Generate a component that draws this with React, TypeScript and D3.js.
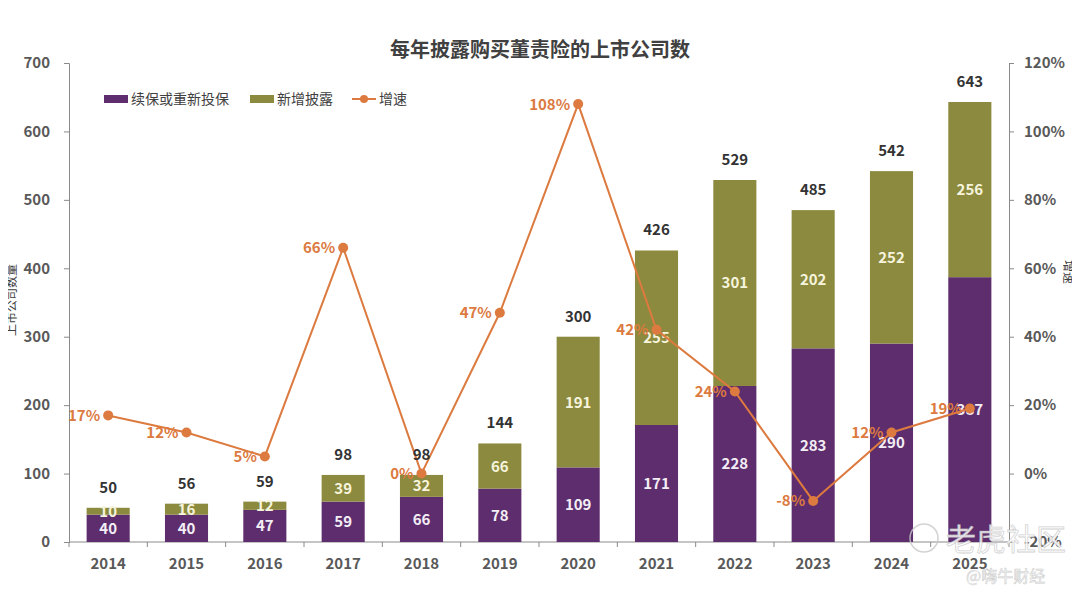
import { useEffect, useRef } from "react";
import * as d3 from "d3";

const years = ["2014", "2015", "2016", "2017", "2018", "2019", "2020", "2021", "2022", "2023", "2024", "2025"];
const renewed = [40, 40, 47, 59, 66, 78, 109, 171, 228, 283, 290, 387];
const newlyDisclosed = [10, 16, 12, 39, 32, 66, 191, 255, 301, 202, 252, 256];
const totals = [50, 56, 59, 98, 98, 144, 300, 426, 529, 485, 542, 643];
const growth = [17, 12, 5, 66, 0, 47, 108, 42, 24, -8, 12, 19];
const leftTicks = [0, 100, 200, 300, 400, 500, 600, 700];
const rightTicks = [-20, 0, 20, 40, 60, 80, 100, 120];

const PURPLE = "#5d2d6e";
const OLIVE = "#8c8a3e";
const ORANGE = "#dc7a3f";
const AXIS = "#8a8a8a";
const TICK_TEXT = "#595959";
const FONT = "'Noto Sans CJK SC', 'Noto Sans', sans-serif";

function App() {
	const ref = useRef<SVGSVGElement>(null);

	useEffect(() => {
		const svg = d3.select(ref.current);
		svg.selectAll("*").remove();

		const width = 1080;
		const height = 600;
		const left = 69;
		const right = 1009;
		const top = 63;
		const bottom = 542;

		svg.attr("width", width).attr("height", height).style("font-family", FONT);

		// frame
		svg.append("rect")
			.attr("x", 0.5)
			.attr("y", 0.5)
			.attr("width", width - 1)
			.attr("height", height - 3)
			.attr("rx", 8)
			.attr("fill", "white")
			.attr("stroke", "#cfcfcf");

		const x = d3.scaleBand<string>().domain(years).range([left, right]).paddingInner(0.45).paddingOuter(0.225);
		const y = d3.scaleLinear().domain([0, 700]).range([bottom, top]);
		const y2 = d3.scaleLinear().domain([-20, 120]).range([bottom, top]);

		// title
		svg.append("text")
			.attr("x", 540)
			.attr("y", 57)
			.attr("text-anchor", "middle")
			.attr("font-size", 20)
			.attr("font-weight", 700)
			.attr("fill", "#404040")
			.text("每年披露购买董责险的上市公司数");

		// left axis
		const leftAxis = svg.append("g")
			.attr("transform", `translate(${left},0)`)
			.call(d3.axisLeft(y).tickValues(leftTicks).tickSize(5).tickPadding(14));
		leftAxis.selectAll("text").attr("font-size", 15).attr("font-weight", 700).attr("fill", TICK_TEXT).attr("font-family", FONT);

		// right axis
		const rightAxis = svg.append("g")
			.attr("transform", `translate(${right},0)`)
			.call(d3.axisRight(y2).tickValues(rightTicks).tickSize(5).tickPadding(10).tickFormat((d) => `${d}%`));
		rightAxis.selectAll("text").attr("font-size", 15).attr("font-weight", 700).attr("fill", TICK_TEXT).attr("font-family", FONT);

		// bottom axis with ticks between categories
		const step = x.step();
		const bottomAxis = svg.append("g").attr("transform", `translate(0,${bottom})`);
		bottomAxis.append("line").attr("x1", left).attr("x2", right).attr("stroke", AXIS);
		bottomAxis.selectAll("line.tick")
			.data(d3.range(years.length + 1))
			.join("line")
			.attr("class", "tick")
			.attr("x1", (i) => left + i * step)
			.attr("x2", (i) => left + i * step)
			.attr("y1", 0)
			.attr("y2", 5)
			.attr("stroke", AXIS);
		bottomAxis.selectAll("text")
			.data(years)
			.join("text")
			.attr("x", (d) => x(d)! + x.bandwidth() / 2)
			.attr("y", 27)
			.attr("text-anchor", "middle")
			.attr("font-size", 15)
			.attr("font-weight", 700)
			.attr("fill", TICK_TEXT)
			.text((d) => d);

		svg.selectAll(".domain").attr("stroke", AXIS);
		svg.selectAll(".tick line").attr("stroke", AXIS);

		// axis titles
		svg.append("text")
			.attr("transform", `translate(16,300) rotate(-90)`)
			.attr("text-anchor", "middle")
			.attr("font-size", 12)
			.attr("fill", "#404040")
			.text("上市公司数量");
		svg.append("text")
			.attr("transform", `translate(1064,272) rotate(90)`)
			.attr("text-anchor", "middle")
			.attr("font-size", 12)
			.attr("fill", "#404040")
			.text("增速");

		// stacked bars
		const rows = years.map((yr, i) => ({ year: yr, renewed: renewed[i], newlyDisclosed: newlyDisclosed[i] }));
		const stack = d3.stack<{ year: string; renewed: number; newlyDisclosed: number }>().keys(["renewed", "newlyDisclosed"]);
		const series = stack(rows);
		const colors = [PURPLE, OLIVE];

		series.forEach((s, si) => {
			svg.append("g")
				.selectAll("rect")
				.data(s)
				.join("rect")
				.attr("x", (d) => x(d.data.year)!)
				.attr("y", (d) => y(d[1]))
				.attr("width", x.bandwidth())
				.attr("height", (d) => y(d[0]) - y(d[1]))
				.attr("fill", colors[si]);
		});

		// segment labels
		series.forEach((s, si) => {
			svg.append("g")
				.selectAll("text")
				.data(s)
				.join("text")
				.attr("x", (d) => x(d.data.year)! + x.bandwidth() / 2)
				.attr("y", (d) => (y(d[0]) + y(d[1])) / 2 + 5.5)
				.attr("text-anchor", "middle")
				.attr("font-size", 15)
				.attr("font-weight", 700)
				.attr("fill", si === 0 ? "#f3eef5" : "#f6f4dc")
				.text((d) => (si === 0 ? d.data.renewed : d.data.newlyDisclosed));
		});

		// growth line
		const cx = (i: number) => x(years[i])! + x.bandwidth() / 2;
		const line = d3.line<number>().x((_, i) => cx(i)).y((d) => y2(d));
		svg.append("path")
			.datum(growth)
			.attr("d", line)
			.attr("fill", "none")
			.attr("stroke", ORANGE)
			.attr("stroke-width", 2);
		svg.append("g")
			.selectAll("circle")
			.data(growth)
			.join("circle")
			.attr("cx", (_, i) => cx(i))
			.attr("cy", (d) => y2(d))
			.attr("r", 5)
			.attr("fill", ORANGE);
		svg.append("g")
			.selectAll("text")
			.data(growth)
			.join("text")
			.attr("x", (_, i) => cx(i) - 8)
			.attr("y", (d) => y2(d) + 5.5)
			.attr("text-anchor", "end")
			.attr("font-size", 15)
			.attr("font-weight", 700)
			.attr("fill", ORANGE)
			.text((d) => `${d}%`);

		// totals
		svg.append("g")
			.selectAll("text")
			.data(totals)
			.join("text")
			.attr("x", (_, i) => cx(i))
			.attr("y", (d) => y(d) - 15)
			.attr("text-anchor", "middle")
			.attr("font-size", 15)
			.attr("font-weight", 700)
			.attr("fill", "#333333")
			.text((d) => d);

		// legend
		const legend = svg.append("g").attr("transform", "translate(104,99)");
		const items = [
			{ label: "续保或重新投保", color: PURPLE, kind: "rect", w: 146 },
			{ label: "新增披露", color: OLIVE, kind: "rect", w: 102 },
			{ label: "增速", color: ORANGE, kind: "line", w: 60 },
		];
		let lx = 0;
		items.forEach((it) => {
			const g = legend.append("g").attr("transform", `translate(${lx},0)`);
			if (it.kind === "rect") {
				g.append("rect").attr("x", 0).attr("y", -4).attr("width", 24).attr("height", 8).attr("fill", it.color);
			} else {
				g.append("line").attr("x1", 0).attr("x2", 24).attr("y1", 0).attr("y2", 0).attr("stroke", it.color).attr("stroke-width", 2);
				g.append("circle").attr("cx", 12).attr("cy", 0).attr("r", 4).attr("fill", it.color);
			}
			g.append("text")
				.attr("x", 27)
				.attr("y", 5)
				.attr("font-size", 14)
				.attr("fill", "#404040")
				.text(it.label);
			lx += it.w;
		});

		// watermark
		svg.append("circle")
			.attr("cx", 924)
			.attr("cy", 538)
			.attr("r", 14)
			.attr("fill", "none")
			.attr("stroke", "rgba(200,200,200,0.8)")
			.attr("stroke-width", 1.5);
		svg.append("text")
			.attr("x", 946)
			.attr("y", 550)
			.attr("font-size", 30)
			.attr("fill", "rgba(255,255,255,0.85)")
			.attr("stroke", "rgba(190,190,190,0.7)")
			.attr("stroke-width", 0.8)
			.text("老虎社区");
		svg.append("text")
			.attr("x", 966)
			.attr("y", 582)
			.attr("font-size", 16)
			.attr("fill", "rgba(255,255,255,0.9)")
			.attr("stroke", "rgba(170,170,170,0.6)")
			.attr("stroke-width", 0.6)
			.text("@嗨牛财经");
	}, []);

	return <svg ref={ref} style={{ display: "block", margin: "-8px" }} />;
}

export default App;
